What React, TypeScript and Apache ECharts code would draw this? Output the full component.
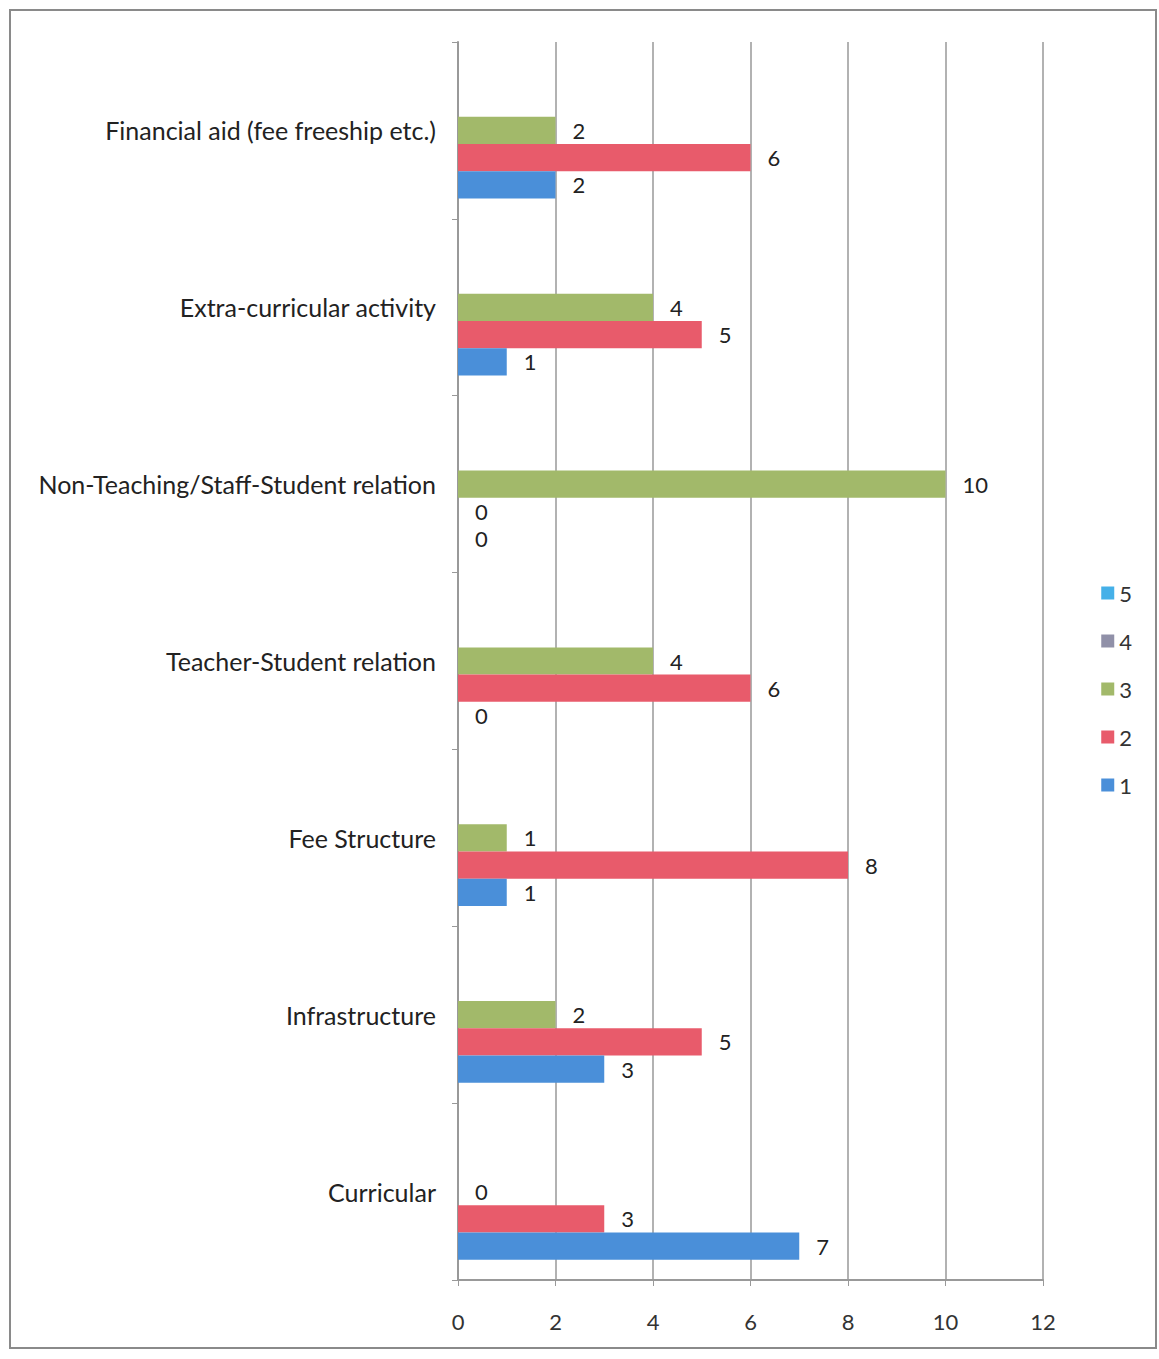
import React, { useEffect, useRef } from "react";
import * as echarts from "echarts";

const categories = [
  "Curricular",
  "Infrastructure",
  "Fee Structure",
  "Teacher-Student relation",
  "Non-Teaching/Staff-Student relation",
  "Extra-curricular activity",
  "Financial aid (fee freeship etc.)",
];
const series1 = [7, 3, 1, 0, 0, 1, 2];
const series2 = [3, 5, 8, 6, 0, 5, 6];
const series3 = [0, 2, 1, 4, 10, 4, 2];
const series4: (number | null)[] = [null, null, null, null, null, null, null];
const series5: (number | null)[] = [null, null, null, null, null, null, null];
const seriesNames = ["1", "2", "3", "4", "5"];
const seriesColors = ["#4a8fd9", "#e85b6b", "#a2b96a", "#9090a8", "#45b0e8"];
const xTicks = { min: 0, max: 12, interval: 2 };

const FONT = "Lato, 'Open Sans', sans-serif";

export default function App() {
  const ref = useRef<HTMLDivElement>(null);
  useEffect(() => {
    if (!ref.current) return;
    const chart = echarts.init(ref.current, undefined, { renderer: "svg" });
    const allData = [series1, series2, series3, series4, series5];
    // ECharts places the first series at the top of a horizontal band,
    // so series are supplied from 5 down to 1.
    const order = [4, 3, 2, 1, 0];
    chart.setOption({
      animation: false,
      backgroundColor: "#ffffff",
      textStyle: { fontFamily: FONT },
      graphic: [
        {
          type: "rect",
          shape: { x: 10, y: 10, width: 1146, height: 1338 },
          style: { fill: "none", stroke: "#8a8a8a", lineWidth: 2 },
          silent: true,
        },
      ],
      legend: {
        orient: "vertical",
        right: 22,
        top: 577,
        itemGap: 26,
        itemWidth: 13,
        itemHeight: 13,
        icon: "rect",
        data: ["5", "4", "3", "2", "1"],
        textStyle: { fontSize: 22, color: "#333", fontFamily: FONT },
      },
      grid: { left: 458, right: 116, top: 42, bottom: 79 },
      xAxis: {
        type: "value",
        min: xTicks.min,
        max: xTicks.max,
        interval: xTicks.interval,
        axisLine: { show: true, lineStyle: { color: "#999", width: 2 } },
        axisTick: { show: true, length: 6, lineStyle: { color: "#999" } },
        axisLabel: { fontSize: 22, color: "#333", margin: 30, fontFamily: FONT },
        splitLine: { show: true, lineStyle: { color: "#999", width: 1.5 } },
      },
      yAxis: {
        type: "category",
        data: categories,
        axisLine: { show: true, lineStyle: { color: "#999", width: 2 } },
        axisTick: { show: true, length: 6, lineStyle: { color: "#999" } },
        axisLabel: {
          fontSize: 25,
          color: "#222",
          margin: 22,
          padding: [0, 0, 6, 0],
          fontFamily: FONT,
        },
      },
      series: order.map((i) => ({
        name: seriesNames[i],
        type: "bar",
        data: allData[i],
        barGap: "0%",
        barCategoryGap: "23%",
        itemStyle: { color: seriesColors[i] },
        label: {
          show: true,
          position: "right",
          distance: 17,
          fontSize: 22,
          color: "#222",
          fontFamily: FONT,
        },
      })),
    });
    return () => chart.dispose();
  }, []);
  return (
    <div
      ref={ref}
      style={{ position: "fixed", left: 0, top: 0, width: 1159, height: 1359 }}
    />
  );
}
